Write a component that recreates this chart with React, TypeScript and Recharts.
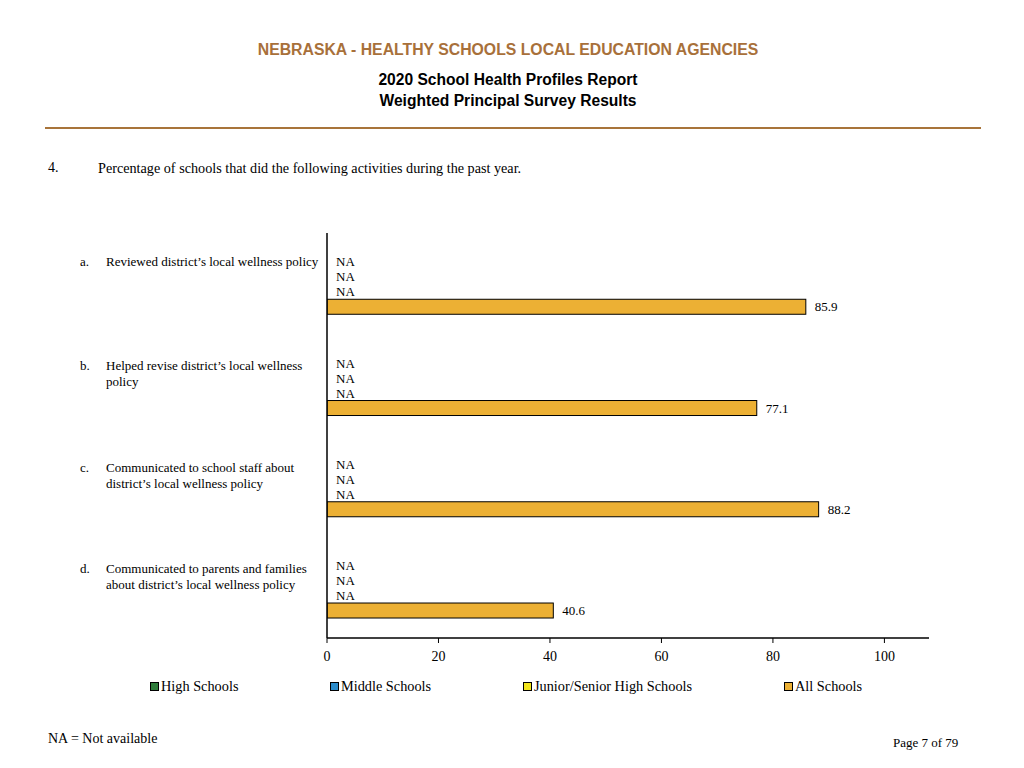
import { BarChart, Bar, XAxis, YAxis } from 'recharts'

const categories = ['a.', 'b.', 'c.', 'd.']
const labelLines = [
  ['Reviewed district’s local wellness policy'],
  ['Helped revise district’s local wellness', 'policy'],
  ['Communicated to school staff about', 'district’s local wellness policy'],
  ['Communicated to parents and families', 'about district’s local wellness policy'],
]
const highSchools: (number | null)[] = [null, null, null, null]
const middleSchools: (number | null)[] = [null, null, null, null]
const juniorSeniorSchools: (number | null)[] = [null, null, null, null]
const allSchools: (number | null)[] = [85.9, 77.1, 88.2, 40.6]
const xTicks = [0, 20, 40, 60, 80, 100]

const series = [
  { key: 'high', name: 'High Schools', color: '#2f7d3b', values: highSchools },
  { key: 'middle', name: 'Middle Schools', color: '#2b8ccb', values: middleSchools },
  { key: 'junior', name: 'Junior/Senior High Schools', color: '#f2e51c', values: juniorSeniorSchools },
  { key: 'all', name: 'All Schools', color: '#ecb034', values: allSchools },
]

// NA values become zero-length bars so the "NA" text still gets a slot
const data = categories.map((c, i) => {
  const row: any = { cat: c }
  for (const s of series) row[s.key] = s.values[i] ?? 0
  return row
})

const serif = '"Liberation Serif", "Times New Roman", serif'
const sans = '"Liberation Sans", Arial, sans-serif'

function CatTick(props: any) {
  const { y, payload } = props
  const i = categories.indexOf(payload.value)
  const lines = labelLines[i] || []
  const top = y - (lines.length > 1 ? 19 : 22)
  return (
    <g fontFamily={serif} fontSize={13} fill="#000">
      <text x={80} y={top} dy="0.35em">{payload.value}</text>
      {lines.map((ln, k) => (
        <text key={k} x={106} y={top + k * 16} dy="0.35em">{ln}</text>
      ))}
    </g>
  )
}

// bar + its value text ("NA" when missing)
function makeShape(values: (number | null)[], color: string) {
  return function BarWithText(props: any) {
    const { x, y, width, height, index } = props
    const v = values[index]
    return (
      <g>
        {v != null && width > 0 && (
          <rect x={x} y={y} width={width} height={height} fill={color} stroke="#000" strokeWidth={1} />
        )}
        <text x={x + (v != null ? width : 0) + 9} y={y + height / 2} dy="0.35em"
          fontFamily={serif} fontSize={13} fill="#000">{v == null ? 'NA' : v.toFixed(1)}</text>
      </g>
    )
  }
}

function LegendBox() {
  const pos = [150, 330, 523, 784]
  return (
    <div style={{ position: 'absolute', top: 678, left: 0, width: 1024, height: 20 }}>
      {series.map((s, i) => (
        <div key={s.key} style={{ position: 'absolute', left: pos[i], top: 0, display: 'flex', alignItems: 'center',
          fontFamily: serif, fontSize: 14.3, color: '#000', whiteSpace: 'nowrap' }}>
          <span style={{ display: 'inline-block', width: 7, height: 7, background: s.color, border: '1px solid #000', marginRight: 2 }} />
          {s.name}
        </div>
      ))}
    </div>
  )
}

export default function App() {
  return (
    <div style={{ position: 'absolute', left: 0, top: 0, width: 1024, height: 768, background: '#fff', overflow: 'hidden' }}>
      <div style={{ position: 'absolute', top: 41, width: 1016, textAlign: 'center', fontFamily: sans, fontWeight: 700, fontSize: 15.8, color: '#a8703a' }}>
        NEBRASKA - HEALTHY SCHOOLS LOCAL EDUCATION AGENCIES
      </div>
      <div style={{ position: 'absolute', top: 69, width: 1016, textAlign: 'center', fontFamily: sans, fontWeight: 700, fontSize: 15.6, color: '#000', lineHeight: '21px' }}>
        2020 School Health Profiles Report<br />Weighted Principal Survey Results
      </div>
      <div style={{ position: 'absolute', top: 127, left: 45, width: 936, height: 2, background: '#a8743a' }} />
      <div style={{ position: 'absolute', top: 160, left: 48, fontFamily: serif, fontSize: 14 }}>4.</div>
      <div style={{ position: 'absolute', top: 160, left: 98, fontFamily: serif, fontSize: 14.2 }}>
        Percentage of schools that did the following activities during the past year.
      </div>

      <div style={{ position: 'absolute', left: 0, top: 0 }}>
        <BarChart width={1024} height={768} data={data} layout="vertical"
          margin={{ top: 233, right: 95, bottom: 100, left: 326 }}
          barCategoryGap="21%" barGap={0}>
          <XAxis type="number" domain={[0, 108]} ticks={xTicks} allowDataOverflow
            axisLine={{ stroke: '#000', strokeWidth: 1.5 }} tickLine={{ stroke: '#000' }} tickSize={5} tickMargin={8}
            tick={{ fontFamily: serif, fontSize: 14, fill: '#000' }} height={30} />
          <YAxis type="category" dataKey="cat" width={1} axisLine={{ stroke: '#000', strokeWidth: 1.5 }}
            tickLine={false} tick={<CatTick />} interval={0} />
          {series.map((s) => (
            <Bar key={s.key} dataKey={s.key} name={s.name} fill={s.color}
              shape={makeShape(s.values, s.color)} isAnimationActive={false} />
          ))}
        </BarChart>
      </div>

      <LegendBox />

      <div style={{ position: 'absolute', top: 731, left: 48, fontFamily: serif, fontSize: 14 }}>NA = Not available</div>
      <div style={{ position: 'absolute', top: 735, left: 893, fontFamily: serif, fontSize: 13 }}>Page 7 of 79</div>
    </div>
  )
}
